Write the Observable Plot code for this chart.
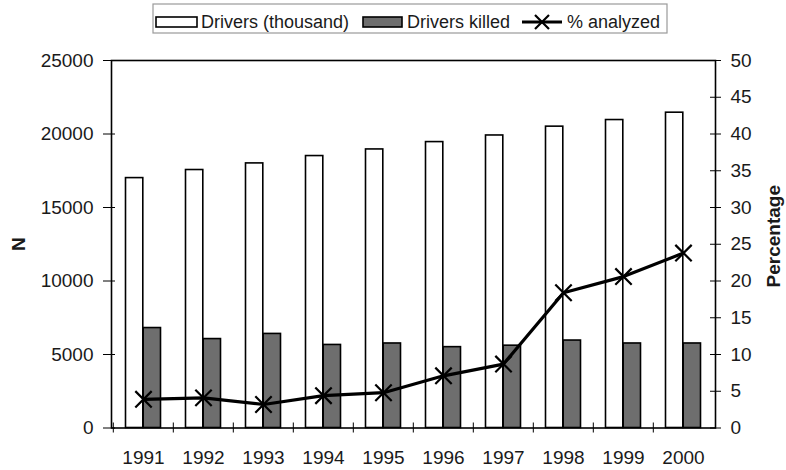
<!DOCTYPE html>
<html>
<head>
<meta charset="utf-8">
<script src="https://cdn.jsdelivr.net/npm/d3@7"></script>
<script src="https://cdn.jsdelivr.net/npm/@observablehq/plot@0.6"></script>
<style>
  html, body { margin: 0; padding: 0; background: white; }
  #chart { position: relative; width: 786px; height: 470px; }
  #chart svg g[aria-label="y-axis tick label"],
  #chart svg g[aria-label="x-axis tick label"] { font-size: 19px !important; }
</style>
</head>
<body>
<div id="chart"></div>
<script>
const years = ["1991","1992","1993","1994","1995","1996","1997","1998","1999","2000"];
const driversThousand = [17000, 17550, 18000, 18500, 18950, 19450, 19900, 20500, 20950, 21450];
const driversKilled = [6800, 6050, 6400, 5650, 5750, 5500, 5600, 5950, 5750, 5750];
const pctAnalyzed = [3.9, 4.1, 3.2, 4.4, 4.8, 7.1, 8.7, 18.4, 20.6, 23.8];
const nTicks = [0, 5000, 10000, 15000, 20000, 25000];
const pctTicks = [0, 5, 10, 15, 20, 25, 30, 35, 40, 45, 50];
const nMax = 25000, pctMax = 50;
const seriesNames = ["Drivers (thousand)", "Drivers killed", "% analyzed"];
const leftTitle = "N", rightTitle = "Percentage";

const k = nMax / pctMax; // map percentage onto the N scale
const rows = years.map((year, i) => ({year, drivers: driversThousand[i], killed: driversKilled[i], pct: pctAnalyzed[i]}));

const grey = "#6e6e6e";
const ink = "#1a1a1a";
const font = "'Liberation Sans', Arial, sans-serif";

const svg = Plot.plot({
  width: 786, height: 470,
  marginLeft: 111, marginRight: 71, marginTop: 60, marginBottom: 42.5,
  style: {fontFamily: font, fontSize: "18px", color: ink, background: "white"},
  x: {domain: years, padding: 0, axis: null},
  y: {domain: [0, nMax], axis: null},
  marks: [
    Plot.barY(rows, {x: "year", y: "drivers", fill: "white", stroke: "black", strokeWidth: 1.6, insetLeft: 12.5, insetRight: 30.2}),
    Plot.barY(rows, {x: "year", y: "killed", fill: grey, stroke: "black", strokeWidth: 1.6, insetLeft: 30.2, insetRight: 12.5}),
    Plot.line(rows, {x: "year", y: d => d.pct * k, stroke: "black", strokeWidth: 3.2}),
    Plot.dot(rows, {x: "year", y: d => d.pct * k, symbol: "times", r: 7.5, stroke: "black", strokeWidth: 2.2}),
    Plot.frame({stroke: "black", strokeWidth: 1.6}),
    Plot.axisY(nTicks, {anchor: "left", tickSize: 12, dx: 4, tickPadding: 10, tickFormat: d => String(d), label: null, stroke: "black", fontSize: 19, fill: ink}),
    Plot.axisY(pctTicks.map(d => d * k), {anchor: "right", tickSize: 11, dx: -6, tickPadding: 10, tickFormat: d => String(d / k), label: null, stroke: "black", fontSize: 19, fill: ink}),
    Plot.axisX({tickSize: 0, tickPadding: 22, label: null, fontSize: 19, fill: ink}),
    Plot.axisX({tickSize: 10, dy: -5, dx: -30.2, tickFormat: () => "", label: null, stroke: "black"}),
    Plot.text([leftTitle], {frameAnchor: "left", rotate: -90, dx: -93, textAnchor: "middle", fontWeight: "bold", fontSize: 19, fill: ink}),
    Plot.text([rightTitle], {frameAnchor: "right", rotate: -90, dx: 58, dy: -8, textAnchor: "middle", fontWeight: "bold", fontSize: 19, fill: ink})
  ]
});

document.getElementById("chart").appendChild(svg);

// Legend (drawn into the same SVG)
const s = d3.select(svg);
const lg = s.append("g").attr("font-family", font).attr("font-size", 18).attr("fill", ink).attr("text-anchor", "start");
lg.append("rect").attr("x", 153).attr("y", 4).attr("width", 514).attr("height", 29).attr("fill", "white").attr("stroke", "#9a9a9a").attr("stroke-width", 1.2);
lg.append("rect").attr("x", 156).attr("y", 17).attr("width", 41).attr("height", 10).attr("fill", "white").attr("stroke", "black").attr("stroke-width", 1.6);
lg.append("text").attr("x", 201).attr("y", 27.5).text(seriesNames[0]);
lg.append("rect").attr("x", 363).attr("y", 17).attr("width", 39).attr("height", 10).attr("fill", grey).attr("stroke", "black").attr("stroke-width", 1.6);
lg.append("text").attr("x", 407).attr("y", 27.5).text(seriesNames[1]);
lg.append("line").attr("x1", 522).attr("x2", 562).attr("y1", 22).attr("y2", 22).attr("stroke", "black").attr("stroke-width", 3.2);
lg.append("path").attr("d", "M535,15L549,29M535,29L549,15").attr("stroke", "black").attr("stroke-width", 2.2).attr("fill", "none");
lg.append("text").attr("x", 567).attr("y", 27.5).text(seriesNames[2]);
</script>
</body>
</html>
